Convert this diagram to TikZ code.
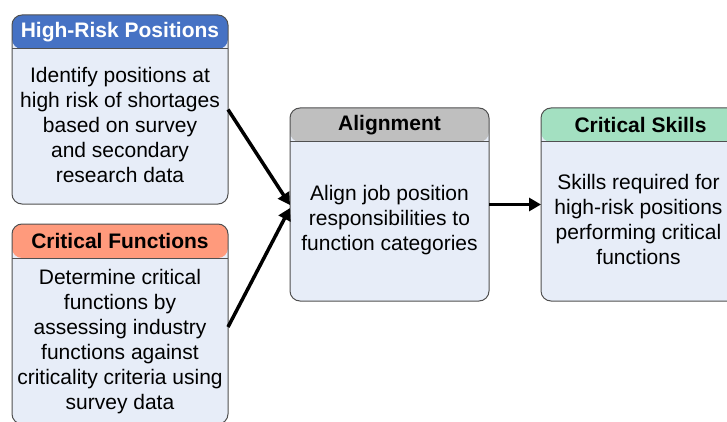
\documentclass[tikz,border=0pt]{standalone}
\usepackage{fontspec}
\setmainfont{Liberation Sans}
\usetikzlibrary{arrows.meta}
\definecolor{hdrblue}{RGB}{70,114,196}
\definecolor{hdrsalmon}{RGB}{255,154,124}
\definecolor{hdrgray}{RGB}{191,191,191}
\definecolor{hdrgreen}{RGB}{163,224,193}
\definecolor{bodyfill}{RGB}{231,237,248}
\definecolor{edgegray}{RGB}{80,80,80}
\begin{document}
\begin{tikzpicture}[x=1pt,y=-1pt,
  card/.style={draw=edgegray, line width=1pt, rounded corners=10pt, fill=bodyfill,
    inner sep=0pt, outer sep=0pt, minimum width=#1},
  hdr/.style={path picture={
      \fill[#1] (path picture bounding box.north west) rectangle
        ([yshift=-34pt]path picture bounding box.north east);
      \draw[edgegray, line width=1pt] ([yshift=-34pt]path picture bounding box.north west)
        -- ([yshift=-34pt]path picture bounding box.north east);}},
  hdrtext/.style={font=\fontsize{21}{25}\selectfont\bfseries, inner sep=0pt},
  bodytext/.style={font=\fontsize{21}{25}\selectfont, align=center, inner sep=0pt},
  flow/.style={line width=3.5pt, -{Triangle[length=12pt,width=13pt]}}
]
\useasboundingbox (0,0) rectangle (727,422);
\clip (0,0) rectangle (727,422);

% source cards
\node[card=216pt, minimum height=189pt, hdr=hdrblue] (risk) at (120,109.5) {};
\node[hdrtext, text=white] (riskhead) at ([yshift=-17pt]risk.north) {High-Risk Positions};
\node[bodytext] (riskbody) at (120,125) {Identify positions at\\high risk of shortages\\based on survey\\and secondary\\research data};

\node[card=216pt, minimum height=200pt, hdr=hdrsalmon] (func) at (120,324) {};
\node[hdrtext] (funchead) at ([yshift=-16.5pt]func.north) {Critical Functions};
\node[bodytext] (funcbody) at (120,341.5) {Determine critical\\functions by\\assessing industry\\functions against\\criticality criteria using\\survey data};

% alignment step
\node[card=199pt, minimum height=193pt, hdr=hdrgray] (align) at (389.5,204.5) {};
\node[hdrtext] (alignhead) at ([yshift=-17pt]align.north) {Alignment};
\node[bodytext] (alignbody) at (389.5,220) {Align job position\\responsibilities to\\function categories};

% result
\node[card=199pt, minimum height=193pt, hdr=hdrgreen] (skills) at (640.5,204.5) {};
\node[hdrtext] (skillshead) at ([yshift=-17pt]skills.north) {Critical Skills};
\node[bodytext] (skillsbody) at (638.5,219) {Skills required for\\high-risk positions\\performing critical\\functions};

% connectors
\draw[flow] (risk.east) -- ([yshift=-0.5pt]align.west);
\draw[flow] ([yshift=-3pt]func.east) -- ([yshift=-3.5pt]align.west);
\draw[flow] (align.east) -- (skills.west);
\end{tikzpicture}
\end{document}
